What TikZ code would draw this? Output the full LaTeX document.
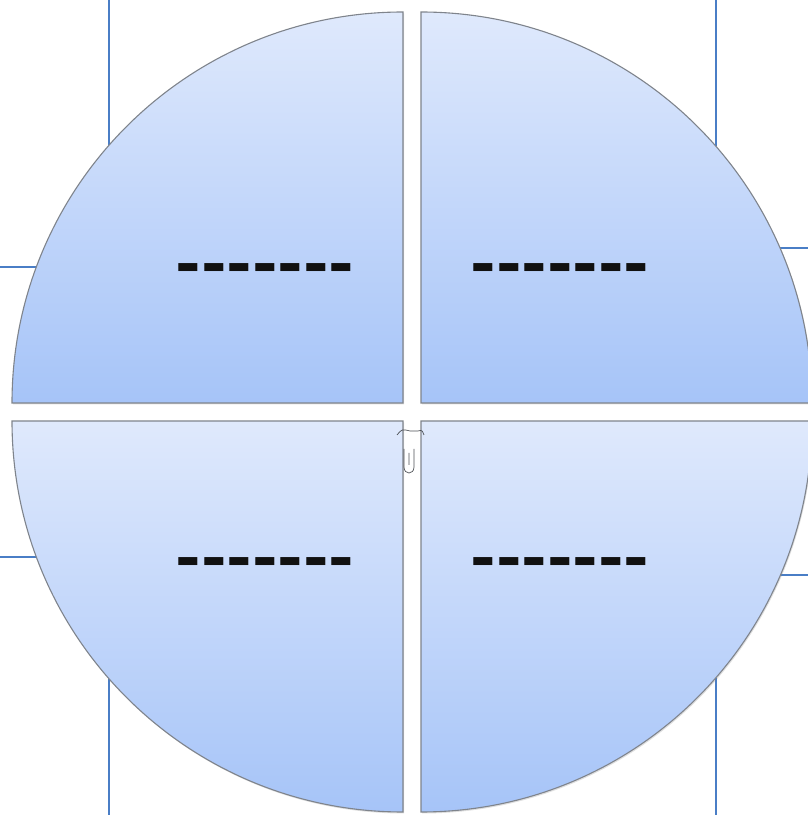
\documentclass[tikz,border=0pt]{standalone}
\usepackage{fontspec}
\usepackage{tikz}
\usetikzlibrary{shadows}
\newfontfamily\dashfont{Carlito}[LetterSpace=2.5]
\definecolor{qtop}{HTML}{DFE9FC}
\definecolor{qbot}{HTML}{A6C4F8}
\definecolor{qedge}{HTML}{7F848C}
\definecolor{linkblue}{HTML}{4A7EC6}
\definecolor{ink}{HTML}{111111}

\begin{document}
\begin{tikzpicture}[x=1pt,y=1pt,
    quarter/.style={top color=qtop, bottom color=qbot, draw=qedge, line width=1.1pt,
      drop shadow={opacity=0.25, shadow xshift=1pt, shadow yshift=-1.5pt}},
    link/.style={linkblue, line width=2pt},
    blank/.style={ink, font=\dashfont\bfseries\fontsize{77}{77}\selectfont, inner sep=0pt}]
  \useasboundingbox (0,0) rectangle (808,815);

  % lines behind the disc
  \coordinate (lt0) at (108.5,815);   \coordinate (lt1) at (108.5,669);
  \coordinate (lm0) at (0,548);       \coordinate (lm1) at (37,548);
  \coordinate (lb0) at (0,258);       \coordinate (lb1) at (37,258);
  \coordinate (lv0) at (108.5,0);     \coordinate (lv1) at (108.5,137);
  \coordinate (rt0) at (716,815);     \coordinate (rt1) at (716,669);
  \coordinate (rm0) at (808,567);     \coordinate (rm1) at (779,567);
  \coordinate (rb0) at (808,240);     \coordinate (rb1) at (779,240);
  \coordinate (rv0) at (716,0);       \coordinate (rv1) at (716,137);
  \draw[link] (lt0) -- (lt1);
  \draw[link] (lm0) -- (lm1);
  \draw[link] (lb0) -- (lb1);
  \draw[link] (lv0) -- (lv1);
  \draw[link] (rt0) -- (rt1);
  \draw[link] (rm0) -- (rm1);
  \draw[link] (rb0) -- (rb1);
  \draw[link] (rv0) -- (rv1);

  % four quarters
  \path[quarter] (403,412) -- ++(-391,0) arc[start angle=180, end angle=90, radius=391] -- cycle;
  \path[quarter] (421,412) -- ++(0,391) arc[start angle=90, end angle=0, radius=391] -- cycle;
  \path[quarter] (403,394) -- ++(-391,0) arc[start angle=180, end angle=270, radius=391] -- cycle;
  \path[quarter] (421,394) -- ++(0,-391) arc[start angle=270, end angle=360, radius=391] -- cycle;

  \node[blank] (tl) at (265,538) {-{}-{}-{}-{}-{}-{}-};
  \node[blank] (tr) at (560,538) {-{}-{}-{}-{}-{}-{}-};
  \node[blank] (bl) at (265,244) {-{}-{}-{}-{}-{}-{}-};
  \node[blank] (br) at (560,244) {-{}-{}-{}-{}-{}-{}-};

  % handle in the middle
  \draw[qedge!60!black, line width=0.7pt] (397,380) .. controls (402,386) .. (410,384) -- (418,384) .. controls (422,385) .. (424,380);
  \draw[qedge!60!black, line width=0.7pt] (404,366) -- (404,348) .. controls (404,340) and (414,340) .. (414,348) -- (414,366)
    (409,362) -- (409,350);
\end{tikzpicture}
\end{document}
